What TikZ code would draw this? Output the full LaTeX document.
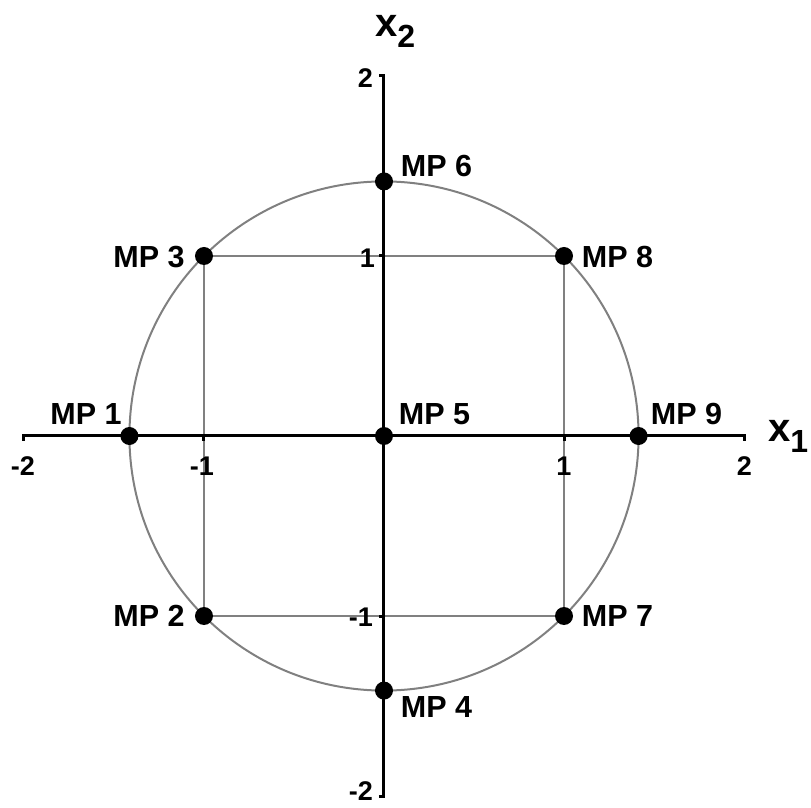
\documentclass[tikz,border=0pt]{standalone}
\usepackage{fontspec}
\setmainfont{Liberation Sans}
\usetikzlibrary{backgrounds}
\begin{document}
\begin{tikzpicture}[x=180pt,y=180pt,
  axisline/.style={line width=3pt, line join=miter},
  guide/.style={draw=black!50, line width=2pt},
  mpdot/.style={circle, fill=black, inner sep=0pt, minimum size=18pt},
  mplabel/.style={font=\fontsize{30.5}{30.5}\selectfont\bfseries, inner sep=0pt},
  ticklabel/.style={font=\fontsize{27}{27}\selectfont\bfseries, inner sep=0pt},
  axlabel/.style={inner sep=0pt, anchor=base west, font=\bfseries}]
\useasboundingbox (-384pt,-372pt) rectangle (427pt,436pt);

% measurement points
\node[mpdot] (mp1) at (-1.41421,0) {};
\node[mpdot] (mp2) at (-1,-1) {};
\node[mpdot] (mp3) at (-1,1) {};
\node[mpdot] (mp4) at (0,-1.41421) {};
\node[mpdot] (mp5) at (0,0) {};
\node[mpdot] (mp6) at (0,1.41421) {};
\node[mpdot] (mp7) at (1,-1) {};
\node[mpdot] (mp8) at (1,1) {};
\node[mpdot] (mp9) at (1.41421,0) {};

% axis end points
\coordinate (xl) at (-2,0);
\coordinate (xr) at (2,0);
\coordinate (yb) at (0,-2);
\coordinate (yt) at (0,2);

\begin{scope}[on background layer]
  \draw[guide] (mp5.center) circle[radius=1.41421];
  \draw[guide] (mp3.center) -- (mp8.center) -- (mp7.center) -- (mp2.center) -- cycle;
  % x axis with end ticks
  \draw[axisline] ([yshift=-5pt]xl) -- (xl) -- (xr) -- ([yshift=-5pt]xr);
  \draw[axisline] (-1,0) -- ++(0,-5pt);
  \draw[axisline] (1,0) -- ++(0,-5pt);
  % y axis with end ticks
  \draw[axisline] ([xshift=-5pt]yb) -- (yb) -- (yt) -- ([xshift=-5pt]yt);
  \draw[axisline] (0,1) -- ++(-5pt,0);
  \draw[axisline] (0,-1) -- ++(-5pt,0);
\end{scope}

% point labels
\node[mplabel] (l1) at (-298pt,22pt) {MP 1};
\node[mplabel] (l2) at (-235pt,-180pt) {MP 2};
\node[mplabel] (l3) at (-235pt,179pt) {MP 3};
\node[mplabel] (l4) at (52.5pt,-271.5pt) {MP 4};
\node[mplabel] (l5) at (50.5pt,22pt) {MP 5};
\node[mplabel] (l6) at (52.5pt,270pt) {MP 6};
\node[mplabel] (l7) at (233.5pt,-180.5pt) {MP 7};
\node[mplabel] (l8) at (233.5pt,179pt) {MP 8};
\node[mplabel] (l9) at (302.5pt,22pt) {MP 9};

% tick labels x
\node[ticklabel] (tx1) at (-361pt,-30pt) {-2};
\node[ticklabel] (tx2) at (-182pt,-30pt) {-1};
\node[ticklabel] (tx3) at (180pt,-30pt) {1};
\node[ticklabel] (tx4) at (360.5pt,-30pt) {2};
% tick labels y
\node[ticklabel, anchor=east] (ty1) at (-11pt,358pt) {2};
\node[ticklabel, anchor=east] (ty2) at (-9pt,178pt) {1};
\node[ticklabel, anchor=east] (ty3) at (-11pt,-181pt) {-1};
\node[ticklabel, anchor=east] (ty4) at (-11pt,-355pt) {-2};

% axis labels
\node[axlabel] (ax1) at (384pt,-6pt) {\fontsize{40}{40}\selectfont x\raisebox{-11pt}{\fontsize{32}{32}\selectfont 1}};
\node[axlabel] (ax2) at (-9pt,399pt) {\fontsize{40}{40}\selectfont x\raisebox{-11pt}{\fontsize{32}{32}\selectfont 2}};
\end{tikzpicture}
\end{document}
